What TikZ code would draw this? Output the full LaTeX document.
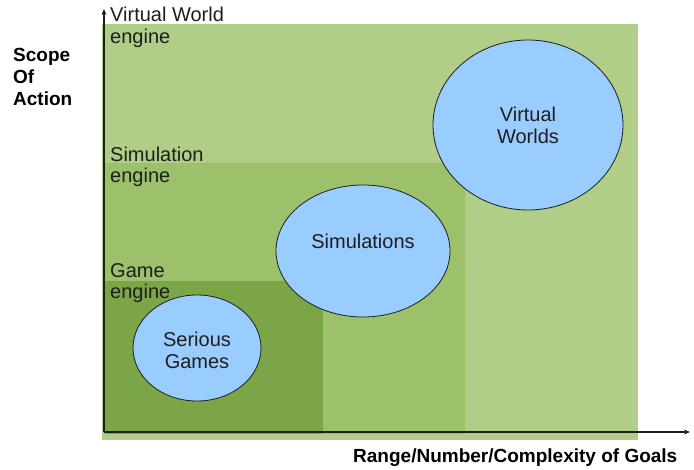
\documentclass[tikz,border=0pt]{standalone}
\usepackage{fontspec}
\setmainfont{Liberation Sans}
\usetikzlibrary{shapes.geometric,arrows.meta}
\definecolor{vwgreen}{RGB}{176,206,135}
\definecolor{simgreen}{RGB}{156,193,106}
\definecolor{gamegreen}{RGB}{124,165,72}
\definecolor{bubble}{RGB}{153,204,255}
\definecolor{ink}{RGB}{30,30,30}
\tikzset{
  txt/.style={inner sep=0pt, anchor=base west, text=ink, font=\fontsize{20}{22}\selectfont},
  axislabel/.style={txt, font=\fontsize{19}{22}\selectfont\bfseries, text=black},
  bubblenode/.style={ellipse, draw=ink, line width=0.8pt, fill=bubble, inner sep=0pt},
  bubbletext/.style={inner sep=0pt, align=center, text=ink, font=\fontsize{20}{22}\selectfont},
  axisline/.style={draw=ink, line width=1.4pt, -{Stealth[length=6pt,width=5pt]}},
}
\begin{document}
\begin{tikzpicture}[x=1pt,y=-1pt]
\useasboundingbox (0,0) rectangle (694,469);
% engine regions
\fill[vwgreen] (102,24) rectangle (638,440);
\fill[simgreen] (105,163) rectangle (465,434);
\fill[gamegreen] (105,281) rectangle (323,434);
% axes
\coordinate (origin) at (104,432);
\coordinate (ytip) at (104,9);
\coordinate (xtip) at (690,432);
\draw[axisline] (origin) -- (ytip);
\draw[axisline] (origin) -- (xtip);
% region labels
\node[txt] (vw1) at (110,21) {Virtual World};
\node[txt] (vw2) at (110,43) {engine};
\node[txt] (sim1) at (110,161) {Simulation};
\node[txt] (sim2) at (110,182) {engine};
\node[txt] (game1) at (110,277) {Game};
\node[txt] (game2) at (110,298) {engine};
% axis titles
\node[axislabel] (s1) at (13,61) {Scope};
\node[axislabel] (s2) at (13,83) {Of};
\node[axislabel] (s3) at (13,105) {Action};
\node[axislabel] (goals) at (353,462) {Range/Number/Complexity of Goals};
% bubbles
\node[bubblenode, minimum width=190pt, minimum height=170pt] (vworlds) at (528,125) {};
\node[bubbletext] (vwt) at (528,125) {Virtual\\Worlds};
\node[bubblenode, minimum width=174pt, minimum height=132pt] (sims) at (363,251) {};
\node[bubbletext] (simt) at (363,241) {Simulations};
\node[bubblenode, minimum width=128pt, minimum height=106pt] (serious) at (197,348) {};
\node[bubbletext] (sgt) at (197,350) {Serious\\Games};
\end{tikzpicture}
\end{document}
